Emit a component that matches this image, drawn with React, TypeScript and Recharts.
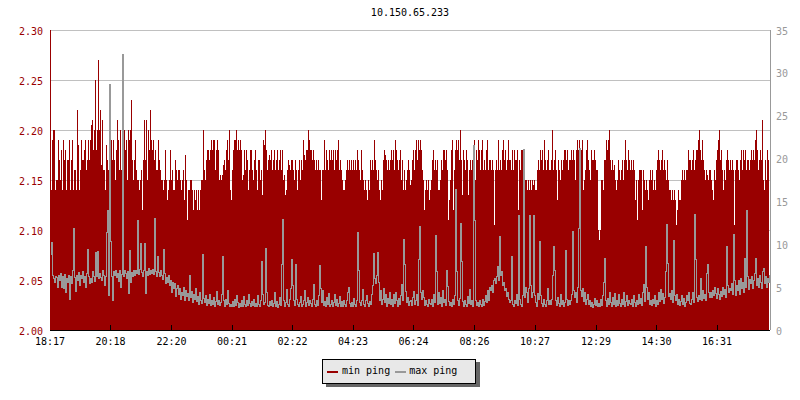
import React from 'react';
import { ComposedChart, Area, Line, XAxis, YAxis, CartesianGrid } from 'recharts';

const chartTitle = '10.150.65.233';
const seriesNames = ['min ping', 'max ping'];
const seriesColors = ['#990000', '#999999'];

const startClock = '18:17';
const sampleStepMinutes = 2;
const timeLabels = ['18:17', '20:18', '22:20', '00:21', '02:22', '04:23', '06:24', '08:26', '10:27', '12:29', '14:30', '16:31'];

const leftTicks = [2.0, 2.05, 2.1, 2.15, 2.2, 2.25, 2.3];
const leftMinorTicks = [2.0, 2.01, 2.02, 2.03, 2.04, 2.05, 2.06, 2.07, 2.08, 2.09, 2.1, 2.11, 2.12, 2.13, 2.14, 2.15, 2.16, 2.17, 2.18, 2.19, 2.2, 2.21, 2.22, 2.23, 2.24, 2.25, 2.26, 2.27, 2.28, 2.29, 2.3];
const rightTicks = [0, 5, 10, 15, 20, 25, 30, 35];
const rightMinorTicks = [0, 1, 2, 3, 4, 5, 6, 7, 8, 9, 10, 11, 12, 13, 14, 15, 16, 17, 18, 19, 20, 21, 22, 23, 24, 25, 26, 27, 28, 29, 30, 31, 32, 33, 34, 35];

// min ping (left axis), one sample every 2 minutes
const minPing = [
  2.14,2.14,2.19,2.20,2.20,2.14,2.15,2.15,2.19,2.17,2.15,2.18,2.14,2.19,2.17,2.18,2.14,2.17,2.17,2.19,
  2.14,2.17,2.19,2.14,2.16,2.16,2.14,2.22,2.185,2.14,2.16,2.19,2.17,2.17,2.18,2.19,2.16,2.17,2.19,2.17,
  2.19,2.205,2.21,2.18,2.20,2.25,2.18,2.20,2.27,2.20,2.22,2.165,2.21,2.16,2.16,2.14,2.185,2.17,2.16,2.17,
  2.15,2.19,2.17,2.19,2.17,2.15,2.18,2.21,2.19,2.16,2.20,2.16,2.20,2.23,2.20,2.18,2.19,2.15,2.20,2.19,
  2.20,2.23,2.17,2.15,2.17,2.19,2.16,2.15,2.15,2.14,2.15,2.16,2.12,2.17,2.21,2.17,2.21,2.15,2.20,2.18,
  2.22,2.19,2.18,2.19,2.17,2.18,2.16,2.16,2.19,2.17,2.16,2.15,2.15,2.14,2.15,2.18,2.15,2.13,2.14,2.15,
  2.18,2.15,2.16,2.14,2.14,2.17,2.16,2.15,2.16,2.16,2.15,2.14,2.15,2.16,2.13,2.175,2.15,2.11,2.14,2.14,
  2.15,2.15,2.14,2.12,2.14,2.13,2.14,2.12,2.14,2.12,2.14,2.15,2.15,2.20,2.16,2.15,2.17,2.18,2.18,2.17,
  2.18,2.19,2.18,2.19,2.19,2.16,2.18,2.19,2.18,2.15,2.155,2.15,2.155,2.165,2.17,2.16,2.18,2.19,2.17,2.20,
  2.14,2.13,2.16,2.18,2.19,2.19,2.20,2.18,2.19,2.18,2.19,2.18,2.15,2.155,2.18,2.16,2.18,2.17,2.14,2.16,
  2.18,2.18,2.16,2.15,2.17,2.18,2.16,2.14,2.17,2.17,2.15,2.16,2.135,2.19,2.185,2.20,2.18,2.16,2.17,2.175,
  2.17,2.18,2.16,2.17,2.18,2.16,2.17,2.18,2.16,2.17,2.18,2.16,2.18,2.15,2.155,2.135,2.14,2.16,2.17,2.165,
  2.16,2.17,2.17,2.16,2.15,2.17,2.16,2.14,2.16,2.17,2.15,2.17,2.16,2.19,2.175,2.17,2.18,2.18,2.20,2.19,
  2.18,2.18,2.17,2.18,2.17,2.16,2.17,2.16,2.17,2.16,2.16,2.13,2.16,2.16,2.19,2.16,2.18,2.17,2.16,2.18,
  2.17,2.18,2.17,2.18,2.16,2.18,2.17,2.18,2.19,2.16,2.17,2.16,2.15,2.14,2.14,2.15,2.16,2.17,2.16,2.17,
  2.16,2.17,2.16,2.17,2.16,2.17,2.16,2.18,2.17,2.16,2.15,2.18,2.16,2.15,2.14,2.15,2.14,2.13,2.15,2.14,
  2.17,2.16,2.17,2.16,2.19,2.17,2.16,2.15,2.16,2.14,2.13,2.15,2.14,2.17,2.18,2.175,2.17,2.16,2.17,2.16,
  2.17,2.18,2.17,2.18,2.16,2.19,2.18,2.17,2.16,2.17,2.18,2.15,2.17,2.14,2.16,2.14,2.15,2.16,2.17,2.16,
  2.145,2.15,2.17,2.18,2.16,2.18,2.19,2.17,2.19,2.18,2.19,2.18,2.16,2.15,2.12,2.14,2.15,2.14,2.15,2.13,
  2.14,2.15,2.17,2.18,2.16,2.17,2.16,2.17,2.14,2.14,2.15,2.17,2.16,2.18,2.18,2.17,2.18,2.16,2.11,2.13,
  2.15,2.18,2.19,2.12,2.16,2.18,2.19,2.18,2.19,2.17,2.20,2.17,2.135,2.18,2.17,2.16,2.18,2.17,2.135,2.16,
  2.17,2.16,2.17,2.18,2.19,2.15,2.18,2.17,2.19,2.18,2.16,2.18,2.19,2.16,2.17,2.16,2.18,2.19,2.16,2.17,
  2.17,2.16,2.17,2.16,2.105,2.16,2.17,2.16,2.19,2.16,2.17,2.16,2.18,2.19,2.17,2.18,2.16,2.17,2.19,2.17,
  2.17,2.16,2.18,2.16,2.18,2.17,2.17,2.18,2.12,2.17,2.16,2.18,2.18,2.17,2.16,2.15,2.15,2.14,2.15,2.14,
  2.15,2.14,2.15,2.145,2.15,2.14,2.14,2.16,2.17,2.16,2.18,2.17,2.18,2.16,2.19,2.17,2.16,2.17,2.18,2.16,
  2.16,2.17,2.20,2.16,2.17,2.18,2.16,2.13,2.17,2.16,2.15,2.17,2.16,2.17,2.18,2.18,2.17,2.18,2.16,2.17,
  2.17,2.18,2.17,2.18,2.17,2.15,2.18,2.19,2.18,2.19,2.17,2.18,2.19,2.14,2.15,2.16,2.18,2.19,2.17,2.16,
  2.15,2.18,2.17,2.17,2.18,2.17,2.16,2.16,2.10,2.09,2.10,2.15,2.15,2.14,2.17,2.17,2.19,2.18,2.19,2.20,
  2.17,2.16,2.17,2.16,2.165,2.15,2.14,2.15,2.17,2.16,2.15,2.16,2.17,2.15,2.17,2.19,2.17,2.16,2.18,2.17,
  2.16,2.17,2.16,2.17,2.16,2.13,2.15,2.11,2.15,2.16,2.16,2.16,2.12,2.16,2.15,2.14,2.15,2.14,2.13,2.15,
  2.16,2.15,2.16,2.14,2.15,2.14,2.16,2.17,2.18,2.17,2.16,2.17,2.18,2.16,2.17,2.16,2.15,2.17,2.15,2.14,
  2.14,2.13,2.14,2.13,2.14,2.13,2.105,2.12,2.14,2.13,2.13,2.15,2.16,2.15,2.16,2.15,2.16,2.16,2.18,2.17,
  2.17,2.16,2.17,2.18,2.16,2.17,2.18,2.18,2.19,2.20,2.18,2.17,2.19,2.17,2.16,2.15,2.16,2.155,2.15,2.16,
  2.16,2.15,2.14,2.13,2.16,2.15,2.17,2.18,2.19,2.20,2.17,2.18,2.16,2.14,2.16,2.15,2.17,2.18,2.17,2.16,
  2.17,2.16,2.17,2.16,2.105,2.16,2.17,2.17,2.16,2.15,2.17,2.18,2.16,2.18,2.17,2.18,2.16,2.17,2.17,2.16,
  2.17,2.18,2.17,2.18,2.17,2.19,2.20,2.18,2.16,2.17,2.18,2.17,2.21,2.15,2.14,2.17,2.15,2.18,2.17,2.16,
];

// max ping (right axis), one sample every 2 minutes
const maxPing = [
  8.8,10.2,6.4,6.0,5.6,6.3,6.1,5.0,6.4,5.8,6.6,5.0,6.2,4.8,6.5,4.4,6.0,5.6,6.4,3.6,
  6.2,5.4,7.0,11.8,6.1,4.5,6.4,5.8,6.7,5.2,6.4,6.0,6.8,5.5,6.3,5.0,6.6,9.4,6.2,5.4,
  6.0,5.5,6.8,6.2,5.7,9.0,6.3,9.2,6.0,6.6,6.1,5.8,6.9,6.4,5.2,6.2,11.4,14.0,4.0,28.6,
  10.3,6.2,3.5,6.8,6.4,7.0,6.1,6.6,5.7,6.9,5.0,6.5,32.1,6.3,7.0,6.6,6.0,6.8,4.3,9.3,
  5.6,6.7,6.3,7.0,6.4,6.9,6.6,12.8,6.5,7.1,10.1,6.7,6.2,7.0,10.1,4.3,6.8,6.4,7.2,6.5,
  6.9,6.6,7.1,6.5,13.0,6.8,6.2,8.6,6.7,6.3,7.0,6.4,5.9,9.4,6.6,5.4,6.1,5.6,6.4,5.2,
  5.8,4.4,5.6,4.9,5.4,3.9,4.8,5.2,4.2,4.9,3.6,4.4,4.0,5.0,3.4,4.6,3.9,4.3,3.5,6.4,
  3.8,4.5,3.2,4.1,3.6,4.8,3.3,3.9,3.0,4.4,3.5,3.1,8.8,3.7,3.2,4.0,2.9,3.6,3.1,4.2,
  2.9,3.4,3.0,3.8,2.8,3.3,4.5,3.0,3.5,2.9,3.2,4.1,8.6,3.4,2.8,3.6,3.0,4.6,3.1,2.8,
  3.0,2.7,3.3,2.8,3.6,2.9,4.0,3.2,2.6,3.1,2.7,3.4,2.8,3.9,3.0,2.7,3.5,2.9,4.2,3.1,
  2.8,3.3,2.9,3.6,2.7,3.1,2.8,4.0,3.0,2.7,3.4,8.0,4.2,3.0,3.2,9.5,4.4,2.9,2.7,3.3,
  2.9,3.5,2.7,3.1,4.4,2.8,3.3,2.6,3.0,3.8,2.9,7.6,12.9,3.4,2.8,3.2,4.7,3.0,2.7,3.6,
  4.8,8.2,5.2,3.4,2.9,7.6,3.6,3.0,2.7,3.2,3.9,2.8,3.0,3.5,4.6,2.8,3.2,3.8,2.9,3.4,
  3.1,2.8,3.6,5.3,3.0,2.7,3.4,2.9,4.0,7.5,4.9,3.2,4.6,2.9,3.3,2.7,3.8,3.0,4.3,2.8,
  3.0,3.4,2.8,3.2,4.2,2.9,3.6,2.7,3.1,3.9,2.8,3.3,2.7,3.5,3.0,2.8,3.4,4.4,5.0,3.1,
  2.8,3.2,2.7,3.7,3.0,2.8,3.4,11.4,7.0,3.2,2.9,3.5,4.7,3.0,2.8,3.4,4.0,3.1,2.7,3.3,
  3.0,4.2,5.2,8.9,6.0,5.4,6.4,9.1,5.6,3.4,4.6,3.0,3.6,4.8,3.2,4.2,2.8,3.7,3.1,4.4,
  3.0,3.6,2.8,4.2,3.1,4.4,3.4,2.8,3.7,3.0,4.0,5.3,3.4,10.6,7.6,4.5,3.2,3.8,2.9,3.3,
  3.4,2.9,3.8,4.5,3.0,3.5,4.2,2.9,8.2,12.1,4.4,3.6,4.6,3.8,2.9,3.4,3.0,2.8,3.6,3.1,
  3.0,3.6,2.8,4.2,3.2,11.0,6.8,3.0,4.4,3.1,3.8,2.8,4.6,3.2,3.6,2.9,7.0,5.1,3.3,2.9,
  3.2,2.8,3.6,3.0,4.0,16.4,6.8,3.4,2.9,3.7,12.4,8.0,3.3,2.8,3.5,3.0,2.7,3.9,3.1,4.7,
  3.0,3.5,2.8,21.5,12.8,3.4,2.9,3.2,2.7,3.4,3.0,2.8,3.6,2.9,3.3,4.0,3.2,4.6,3.5,5.0,
  4.6,5.2,4.4,5.8,6.0,5.4,6.2,7.4,5.8,10.9,6.4,6.8,5.2,5.6,4.6,4.8,3.9,4.4,3.6,3.2,
  3.4,8.6,3.0,2.8,3.5,3.1,4.2,2.9,13.4,3.6,3.0,2.7,4.0,21.1,3.8,5.0,4.4,3.2,4.8,13.4,
  5.2,3.8,4.4,13.4,4.0,3.2,2.8,4.3,3.6,10.3,4.0,3.1,2.8,3.6,3.0,2.7,3.4,4.9,3.0,3.5,
  3.0,3.6,6.4,9.7,7.0,3.4,2.9,3.8,3.1,2.8,4.2,3.0,3.5,2.8,3.2,9.3,3.6,2.9,3.4,3.0,
  3.4,4.2,11.5,4.6,3.8,4.4,3.2,5.0,11.9,21.2,4.6,3.9,4.8,3.3,4.4,3.0,3.6,4.1,3.0,3.4,
  2.8,3.2,2.6,3.0,3.7,2.9,3.4,2.7,3.1,2.8,3.6,2.9,4.0,5.6,8.3,3.4,2.8,3.7,3.0,4.4,
  3.2,2.7,3.8,3.0,4.3,2.8,3.4,2.9,4.2,3.1,2.7,3.6,3.0,4.4,2.8,3.3,4.0,2.9,3.5,3.1,
  3.0,3.6,2.8,4.0,3.2,2.7,3.4,3.0,4.2,3.1,3.7,2.9,4.4,5.3,3.3,9.7,5.0,3.6,4.4,3.0,
  3.4,2.9,3.6,3.1,4.0,2.8,3.5,3.0,4.4,3.3,4.7,3.6,4.3,3.1,3.8,6.8,12.3,7.8,3.9,4.3,
  3.6,4.6,3.2,10.4,4.0,3.4,4.2,3.0,3.6,2.9,3.3,4.0,3.0,3.7,2.8,3.2,4.0,3.5,4.4,3.1,
  3.0,3.6,4.4,3.2,13.5,8.2,3.8,3.3,4.0,3.6,6.0,3.4,4.6,3.7,4.2,3.4,6.6,7.6,4.4,3.8,
  4.4,3.8,4.6,4.0,5.0,4.3,3.7,4.8,4.1,3.6,4.5,3.9,5.0,4.2,4.7,3.8,9.8,5.2,4.4,4.8,
  4.6,5.4,4.2,11.1,5.8,4.0,5.2,4.6,5.8,4.2,6.0,4.8,5.6,4.4,8.4,5.0,13.9,6.2,4.7,5.9,
  5.4,6.2,4.8,5.8,6.6,8.4,5.2,6.0,5.0,6.4,5.6,4.9,6.8,7.2,5.4,6.2,5.0,6.0,5.6,6.4,
];

const clockToMinutes = (s: string) => {
  const [h, m] = s.split(':').map(Number);
  return h * 60 + m;
};
const tickMinutes = timeLabels.map((l) => (clockToMinutes(l) - clockToMinutes(startClock) + 1440) % 1440);
const totalMinutes = minPing.length * sampleStepMinutes;

const data = minPing.map((v, i) => ({ t: i * sampleStepMinutes, min: v, max: maxPing[i] }));

const FONT = '"DejaVu Sans Mono", "Liberation Mono", monospace';

export default function App() {
  return (
    <div
      style={{
        position: 'absolute',
        left: 0,
        top: 0,
        width: 800,
        height: 400,
        background: '#ffffff',
        fontFamily: FONT,
        fontSize: 10,
      }}
    >
      <style>{`
        .recharts-area-area, .recharts-line-curve, .recharts-cartesian-grid line,
        .recharts-cartesian-axis-line, .recharts-cartesian-axis-tick-line { shape-rendering: crispEdges; }
      `}</style>
      <div
        style={{
          position: 'absolute',
          top: 7,
          left: 0,
          width: 820,
          textAlign: 'center',
          lineHeight: '12px',
          color: '#000',
        }}
      >
        {chartTitle}
      </div>
      <ComposedChart
        width={800}
        height={400}
        data={data}
        margin={{ top: 30, right: 0, bottom: 40, left: 0 }}
        style={{ fontFamily: FONT }}
      >
        <CartesianGrid yAxisId="left" vertical={false} stroke="#c0c0c0" />
        <XAxis
          dataKey="t"
          type="number"
          domain={[0, totalMinutes]}
          allowDataOverflow
          ticks={tickMinutes}
          interval={0}
          height={30}
          tickFormatter={(v: number) => timeLabels[tickMinutes.indexOf(v)] ?? ''}
          tickSize={-5}
          tickMargin={13}
          axisLine={{ stroke: '#000' }}
          tickLine={{ stroke: '#000' }}
          tick={{ fill: '#000', fontSize: 10 }}
        />
        <YAxis
          yAxisId="left"
          orientation="left"
          width={50}
          domain={[2.0, 2.3]}
          allowDataOverflow
          ticks={leftTicks}
          interval={0}
          tickFormatter={(v: number) => v.toFixed(2)}
          tickSize={0}
          tickMargin={7}
          tickLine={false}
          axisLine={{ stroke: '#990000' }}
          tick={{ fill: '#990000', fontSize: 10, dy: 1.5 }}
        />
        <YAxis
          yAxisId="leftMinor"
          orientation="left"
          mirror
          width={0}
          domain={[2.0, 2.3]}
          allowDataOverflow
          ticks={leftMinorTicks}
          interval={0}
          tick={false}
          tickSize={3}
          axisLine={false}
          tickLine={{ stroke: '#990000' }}
        />
        <YAxis
          yAxisId="leftMajor"
          orientation="left"
          mirror
          width={0}
          domain={[2.0, 2.3]}
          allowDataOverflow
          ticks={leftTicks}
          interval={0}
          tick={false}
          tickSize={5}
          axisLine={false}
          tickLine={{ stroke: '#990000' }}
        />
        <YAxis
          yAxisId="right"
          orientation="right"
          width={30}
          domain={[0, 35]}
          allowDataOverflow
          ticks={rightTicks}
          interval={0}
          tickSize={0}
          tickMargin={6}
          tickLine={false}
          axisLine={{ stroke: '#999999' }}
          tick={{ fill: '#999999', fontSize: 10, dy: 1 }}
        />
        <YAxis
          yAxisId="rightMinor"
          orientation="right"
          mirror
          width={0}
          domain={[0, 35]}
          allowDataOverflow
          ticks={rightMinorTicks}
          interval={0}
          tick={false}
          tickSize={3}
          axisLine={false}
          tickLine={{ stroke: '#999999' }}
        />
        <YAxis
          yAxisId="rightMajor"
          orientation="right"
          mirror
          width={0}
          domain={[0, 35]}
          allowDataOverflow
          ticks={rightTicks}
          interval={0}
          tick={false}
          tickSize={5}
          axisLine={false}
          tickLine={{ stroke: '#999999' }}
        />
        <Area
          yAxisId="left"
          dataKey="min"
          name={seriesNames[0]}
          type="stepAfter"
          stroke="none"
          fill={seriesColors[0]}
          fillOpacity={1}
          dot={false}
          activeDot={false}
          isAnimationActive={false}
        />
        <Line
          yAxisId="right"
          dataKey="max"
          name={seriesNames[1]}
          type="stepAfter"
          stroke={seriesColors[1]}
          strokeWidth={1}
          dot={false}
          activeDot={false}
          isAnimationActive={false}
        />
      </ComposedChart>
      <div
        style={{
          position: 'absolute',
          left: 322,
          top: 359,
          width: 154,
          height: 25,
          boxSizing: 'border-box',
          border: '1px solid #000',
          background: '#e8e8e8',
          boxShadow: '4px 3px 0 #666666',
          display: 'flex',
          alignItems: 'center',
          color: '#000',
          fontSize: 10,
          lineHeight: '12px',
          whiteSpace: 'nowrap',
        }}
      >
        {seriesNames.map((n, i) => (
          <React.Fragment key={n}>
            <span
              style={{
                display: 'inline-block',
                flex: '0 0 auto',
                width: 11,
                height: 2,
                background: seriesColors[i],
                marginLeft: i === 0 ? 4 : 5,
              }}
            />
            <span
              style={{
                display: 'inline-block',
                flex: '0 0 auto',
                whiteSpace: 'nowrap',
                marginLeft: i === 0 ? 4 : 3,
                marginTop: -2,
              }}
            >
              {n}
            </span>
          </React.Fragment>
        ))}
      </div>
    </div>
  );
}
